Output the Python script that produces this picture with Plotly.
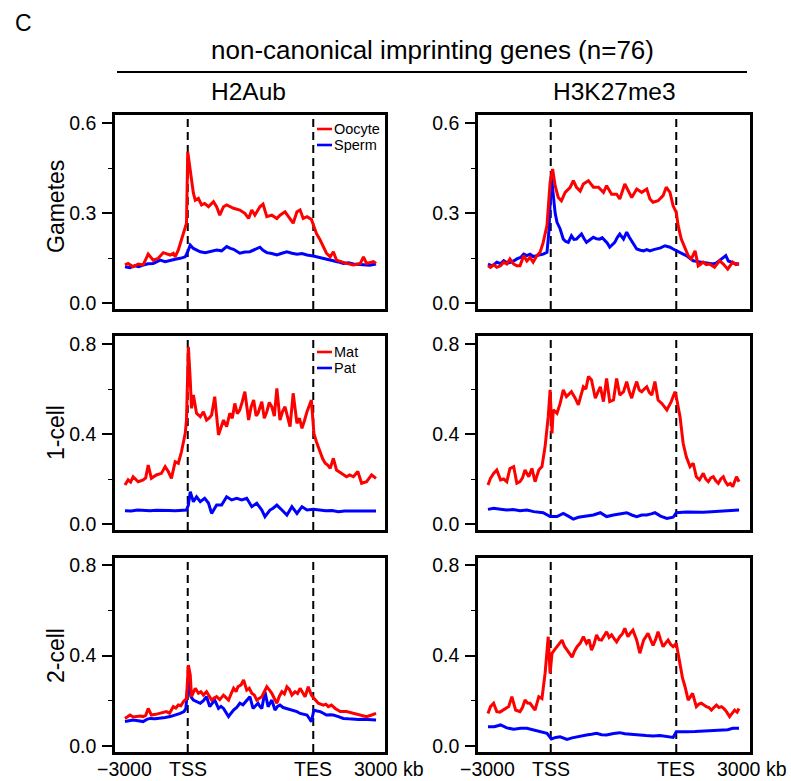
import plotly.graph_objects as go

# ---------------- data (bins: 0 = -3000, 100 = TSS, 300 = TES, 400 = +3000) ----------------
h2a_oocyte_x = [0,5,13,21,29,37,45,53,61,72,77,80,85,90,96,98,100,104,106,109,112,117,122,127,133,141,146,151,157,162,173,183,191,197,202,207,215,220,226,234,242,247,255,260,268,274,279,284,290,297,300,305,311,316,321,327,332,337,343,353,364,375,380,385,396,400]
h2a_oocyte_y = [0.127,0.132,0.121,0.130,0.127,0.163,0.143,0.149,0.168,0.160,0.166,0.154,0.177,0.210,0.254,0.266,0.504,0.438,0.410,0.366,0.343,0.349,0.327,0.332,0.321,0.338,0.321,0.293,0.321,0.327,0.316,0.310,0.299,0.282,0.310,0.293,0.321,0.330,0.288,0.293,0.282,0.293,0.304,0.288,0.266,0.304,0.310,0.282,0.288,0.279,0.260,0.232,0.210,0.188,0.166,0.154,0.171,0.143,0.138,0.132,0.127,0.132,0.154,0.132,0.138,0.132]
h2a_sperm_x = [0,8,15,22,29,37,45,56,64,72,80,88,96,100,104,109,115,120,128,136,146,154,162,168,173,183,191,199,207,215,220,226,234,242,250,258,266,274,282,290,300,308,316,324,332,340,348,356,364,372,380,390,400]
h2a_sperm_y = [0.121,0.118,0.124,0.121,0.127,0.131,0.132,0.143,0.138,0.143,0.146,0.149,0.154,0.171,0.193,0.182,0.176,0.171,0.168,0.171,0.177,0.174,0.188,0.182,0.179,0.166,0.170,0.171,0.178,0.186,0.176,0.168,0.165,0.160,0.166,0.171,0.166,0.163,0.165,0.160,0.157,0.153,0.149,0.146,0.143,0.137,0.132,0.134,0.130,0.128,0.127,0.126,0.130]

k27_oocyte_x = [0,4,9,14,20,25,30,35,41,46,51,57,62,67,72,78,83,88,94,96,99,103,107,112,117,123,131,136,141,147,152,160,168,176,184,189,197,205,210,218,224,229,237,245,253,258,263,271,279,284,290,295,300,303,308,314,319,324,330,335,343,348,353,361,369,375,382,390,395,400]
k27_oocyte_y = [0.124,0.119,0.128,0.119,0.124,0.136,0.130,0.147,0.130,0.124,0.124,0.158,0.140,0.152,0.136,0.158,0.169,0.202,0.258,0.324,0.402,0.447,0.391,0.352,0.341,0.369,0.386,0.408,0.386,0.373,0.397,0.408,0.386,0.386,0.369,0.391,0.363,0.363,0.347,0.397,0.374,0.352,0.380,0.369,0.380,0.347,0.336,0.341,0.358,0.386,0.369,0.324,0.302,0.258,0.213,0.180,0.158,0.147,0.174,0.124,0.136,0.128,0.130,0.119,0.141,0.130,0.113,0.136,0.128,0.130]
k27_sperm_x = [0,7,14,20,25,31,36,41,46,52,57,62,67,72,78,83,88,94,97,101,104,107,110,115,120,124,128,133,137,141,145,149,153,157,162,168,173,178,182,186,190,194,198,202,206,210,216,221,225,229,233,237,243,248,253,258,264,269,275,282,290,295,300,306,311,316,321,327,335,343,351,359,364,369,374,379,383,387,393,400]
k27_sperm_y = [0.130,0.124,0.136,0.131,0.141,0.133,0.136,0.140,0.147,0.152,0.163,0.158,0.163,0.155,0.158,0.160,0.163,0.169,0.236,0.424,0.347,0.300,0.269,0.247,0.213,0.205,0.202,0.224,0.212,0.213,0.222,0.230,0.215,0.202,0.210,0.219,0.214,0.213,0.218,0.208,0.200,0.186,0.194,0.202,0.218,0.230,0.213,0.236,0.220,0.208,0.192,0.180,0.176,0.174,0.178,0.174,0.178,0.180,0.184,0.191,0.186,0.180,0.174,0.169,0.163,0.158,0.150,0.141,0.138,0.136,0.133,0.130,0.134,0.141,0.150,0.158,0.140,0.136,0.132,0.130]

h2a_mat_x = [0,5,9,13,21,29,33,37,42,50,58,64,69,74,80,85,90,96,98,101,104,106,109,114,120,125,130,134,138,143,149,153,157,162,167,171,175,179,183,187,191,197,201,205,209,212,218,222,226,230,234,238,242,247,251,255,259,263,268,274,278,282,286,290,297,301,305,311,315,319,323,327,332,337,345,353,358,364,371,377,385,393,400]
h2a_mat_y = [0.173,0.196,0.186,0.210,0.188,0.196,0.205,0.262,0.203,0.218,0.225,0.255,0.233,0.203,0.277,0.270,0.321,0.403,0.462,0.788,0.640,0.514,0.573,0.492,0.477,0.499,0.462,0.470,0.484,0.566,0.396,0.430,0.462,0.433,0.492,0.470,0.536,0.490,0.507,0.545,0.588,0.462,0.520,0.551,0.480,0.492,0.544,0.470,0.499,0.540,0.521,0.480,0.603,0.462,0.500,0.521,0.470,0.433,0.581,0.447,0.470,0.425,0.460,0.499,0.551,0.403,0.366,0.314,0.290,0.270,0.262,0.247,0.292,0.240,0.225,0.210,0.218,0.210,0.233,0.181,0.188,0.218,0.203]
h2a_pat_x = [0,10,20,30,40,50,60,70,80,90,98,101,104,109,114,120,127,133,138,146,154,162,170,178,186,194,202,210,218,223,231,236,242,250,258,266,274,282,290,300,310,320,330,340,350,360,370,380,390,400]
h2a_pat_y = [0.059,0.058,0.062,0.060,0.059,0.061,0.062,0.060,0.059,0.061,0.062,0.084,0.144,0.099,0.121,0.099,0.114,0.093,0.047,0.084,0.084,0.121,0.107,0.114,0.107,0.114,0.077,0.092,0.062,0.033,0.062,0.070,0.084,0.062,0.040,0.077,0.047,0.077,0.062,0.065,0.061,0.059,0.060,0.055,0.058,0.058,0.056,0.055,0.057,0.058]

k27_mat_x = [0,4,9,14,20,25,30,35,41,46,51,55,59,65,70,75,81,86,91,96,99,102,104,110,115,120,125,129,133,139,144,148,152,156,160,165,171,175,179,184,189,194,200,205,210,216,221,225,229,233,237,241,245,249,253,257,261,266,271,277,281,285,292,298,301,306,311,316,322,327,332,337,343,347,351,355,359,363,367,371,375,378,382,386,390,396,400]
k27_mat_y = [0.173,0.203,0.225,0.240,0.196,0.200,0.188,0.247,0.255,0.181,0.188,0.205,0.240,0.210,0.247,0.188,0.240,0.255,0.344,0.477,0.596,0.403,0.507,0.492,0.536,0.596,0.566,0.575,0.588,0.559,0.529,0.570,0.610,0.600,0.655,0.640,0.559,0.585,0.610,0.544,0.647,0.544,0.551,0.647,0.573,0.588,0.633,0.590,0.559,0.600,0.633,0.595,0.588,0.600,0.610,0.585,0.573,0.633,0.551,0.536,0.520,0.507,0.544,0.588,0.551,0.477,0.359,0.299,0.255,0.270,0.210,0.196,0.225,0.200,0.188,0.205,0.210,0.192,0.181,0.200,0.210,0.190,0.173,0.180,0.166,0.210,0.188]
k27_pat_x = [0,9,20,30,40,51,62,73,88,99,110,120,128,136,144,152,160,168,179,189,200,210,221,229,237,245,253,260,266,275,285,295,300,316,330,343,356,370,385,400]
k27_pat_y = [0.065,0.070,0.066,0.062,0.064,0.059,0.062,0.055,0.050,0.033,0.033,0.047,0.035,0.022,0.030,0.033,0.036,0.040,0.050,0.033,0.040,0.044,0.050,0.040,0.033,0.040,0.040,0.045,0.050,0.035,0.025,0.030,0.050,0.053,0.051,0.052,0.054,0.056,0.058,0.062]

h2a_2c_mat_x = [0,8,13,19,24,29,33,37,42,49,56,61,66,71,77,81,85,89,93,98,101,104,106,112,117,121,125,130,134,138,142,146,151,157,161,165,169,173,177,180,185,189,194,198,202,206,210,214,218,222,226,230,234,238,242,246,250,254,258,262,266,271,275,279,283,287,292,297,301,308,316,320,324,329,335,343,353,364,375,385,393,400]
h2a_2c_mat_y = [0.122,0.137,0.128,0.130,0.133,0.130,0.135,0.166,0.137,0.140,0.144,0.150,0.152,0.145,0.174,0.168,0.181,0.178,0.196,0.210,0.358,0.314,0.218,0.255,0.233,0.240,0.225,0.240,0.222,0.203,0.212,0.218,0.205,0.225,0.214,0.203,0.230,0.255,0.240,0.262,0.270,0.292,0.247,0.255,0.233,0.225,0.203,0.212,0.218,0.240,0.262,0.248,0.233,0.210,0.189,0.220,0.240,0.230,0.262,0.250,0.225,0.240,0.232,0.255,0.235,0.218,0.262,0.225,0.211,0.189,0.181,0.185,0.174,0.181,0.166,0.152,0.152,0.144,0.137,0.130,0.137,0.144]
h2a_2c_pat_x = [0,7,13,21,29,35,40,48,56,64,72,80,88,94,97,101,105,109,115,120,125,130,135,139,143,149,153,157,161,165,169,173,178,183,188,194,199,204,208,212,215,218,223,228,234,239,243,247,252,258,263,268,274,279,285,290,297,301,306,311,316,321,327,332,340,348,356,364,372,380,390,400]
h2a_2c_pat_y = [0.108,0.110,0.115,0.112,0.108,0.118,0.122,0.120,0.122,0.126,0.130,0.136,0.144,0.152,0.166,0.299,0.218,0.203,0.195,0.189,0.200,0.218,0.174,0.190,0.203,0.166,0.175,0.166,0.150,0.130,0.145,0.159,0.170,0.189,0.182,0.203,0.218,0.166,0.180,0.189,0.175,0.166,0.240,0.174,0.203,0.159,0.175,0.181,0.170,0.166,0.162,0.159,0.152,0.144,0.140,0.137,0.108,0.159,0.155,0.152,0.145,0.137,0.138,0.137,0.130,0.122,0.120,0.118,0.117,0.118,0.116,0.115]

k27_2c_mat_x = [0,4,9,14,19,25,29,33,38,44,51,55,59,63,67,71,75,81,86,91,96,99,102,106,110,114,118,122,126,130,134,138,142,147,152,157,161,165,169,173,177,181,185,189,193,197,201,205,210,214,218,223,227,231,237,242,248,251,255,259,263,267,271,275,279,283,287,291,295,300,306,310,314,319,322,326,332,336,340,344,348,352,356,360,364,368,372,376,380,385,389,393,397,400]
k27_2c_mat_y = [0.144,0.174,0.189,0.152,0.150,0.159,0.165,0.174,0.218,0.159,0.152,0.170,0.203,0.190,0.189,0.175,0.159,0.218,0.210,0.321,0.483,0.321,0.410,0.425,0.439,0.450,0.468,0.440,0.424,0.410,0.393,0.420,0.439,0.455,0.483,0.454,0.470,0.424,0.450,0.491,0.470,0.468,0.490,0.505,0.480,0.491,0.475,0.460,0.483,0.495,0.520,0.483,0.500,0.512,0.468,0.410,0.468,0.480,0.498,0.470,0.445,0.470,0.505,0.470,0.439,0.455,0.468,0.450,0.439,0.454,0.351,0.300,0.262,0.203,0.215,0.233,0.174,0.185,0.189,0.180,0.174,0.170,0.159,0.170,0.181,0.170,0.174,0.165,0.152,0.130,0.145,0.159,0.150,0.166]
k27_2c_pat_x = [0,10,20,30,41,52,62,70,78,86,94,101,108,115,120,126,134,141,149,157,165,173,181,189,200,210,218,226,234,242,252,263,274,285,295,300,308,316,330,343,358,372,382,390,400]
k27_2c_pat_y = [0.085,0.085,0.093,0.080,0.074,0.078,0.078,0.072,0.066,0.062,0.056,0.031,0.038,0.041,0.035,0.029,0.036,0.041,0.045,0.049,0.052,0.056,0.050,0.049,0.055,0.059,0.054,0.053,0.050,0.049,0.046,0.044,0.046,0.041,0.038,0.063,0.062,0.063,0.064,0.066,0.066,0.068,0.072,0.078,0.078]

row_labels = ["Gametes", "1-cell", "2-cell"]
col_labels = ["H2Aub", "H3K27me3"]
legend_gametes = ["Oocyte", "Sperm"]
legend_embryo = ["Mat", "Pat"]
x_tickvals = [0, 100, 300, 400]
x_ticktext = ["\u22123000", "TSS", "TES", "3000"]
x_unit = "kb"
title_text = "non-canonical imprinting genes (n=76)"

RED = "#ff0000"
BLUE = "#0000ff"
FONT = "Liberation Sans, Arial, sans-serif"
W, H = 791, 781

panels = [
    (h2a_oocyte_x, h2a_oocyte_y, h2a_sperm_x, h2a_sperm_y),
    (k27_oocyte_x, k27_oocyte_y, k27_sperm_x, k27_sperm_y),
    (h2a_mat_x, h2a_mat_y, h2a_pat_x, h2a_pat_y),
    (k27_mat_x, k27_mat_y, k27_pat_x, k27_pat_y),
    (h2a_2c_mat_x, h2a_2c_mat_y, h2a_2c_pat_x, h2a_2c_pat_y),
    (k27_2c_mat_x, k27_2c_mat_y, k27_2c_pat_x, k27_2c_pat_y),
]

# pixel boxes for columns / rows
col_px = [(115, 385), (478, 750)]
row_px = [(115, 309), (336, 530), (558, 752)]
xranges = [[-15.9, 414.3], [-15.9, 417.5]]
yranges = [[-0.02, 0.627], [-0.0267, 0.8356], [-0.0265, 0.831]]
ymajor = [[0, 0.3, 0.6], [0, 0.4, 0.8], [0, 0.4, 0.8]]
ymajor_txt = [["0.0", "0.3", "0.6"], ["0.0", "0.4", "0.8"], ["0.0", "0.4", "0.8"]]
yminor = [[0.15, 0.45], [0.2, 0.6], [0.2, 0.6]]

fig = go.Figure()
layout = dict(width=W, height=H, margin=dict(l=0, r=0, t=0, b=0, autoexpand=False),
              paper_bgcolor="white", plot_bgcolor="white", showlegend=False,
              font=dict(family=FONT, color="black"))
shapes = []
annotations = []
XLAB_Y = 1 - 769 / H

for i, (rx, ry, bx, by) in enumerate(panels):
    r, c = divmod(i, 2)
    n = "" if i == 0 else str(i + 1)
    xa, ya = "x" + n, "y" + n
    fig.add_trace(go.Scatter(x=bx, y=by, mode="lines", line=dict(color=BLUE, width=3),
                             xaxis=xa, yaxis=ya, hoverinfo="skip"))
    fig.add_trace(go.Scatter(x=rx, y=ry, mode="lines", line=dict(color=RED, width=3),
                             xaxis=xa, yaxis=ya, hoverinfo="skip"))
    x0p, x1p = col_px[c]
    y0p, y1p = row_px[r]
    bottom = (r == 2)
    layout["xaxis" + n] = dict(
        domain=[x0p / W, x1p / W], range=xranges[c], anchor=ya, automargin=False,
        showline=True, mirror=True, linecolor="black", linewidth=2.5,
        showgrid=False, zeroline=False, ticks="", showticklabels=False)
    layout["yaxis" + n] = dict(
        domain=[1 - y1p / H, 1 - y0p / H], range=yranges[r], anchor=xa, automargin=False,
        showline=True, mirror=True, linecolor="black", linewidth=2.5,
        showgrid=False, zeroline=False, ticks="outside", ticklen=10, tickwidth=1.5,
        tickcolor="black", tickmode="array", tickvals=ymajor[r], ticktext=ymajor_txt[r],
        tickfont=dict(size=19.5, family=FONT, color="black"), ticklabelstandoff=2,
        minor=dict(ticks="outside", tickvals=yminor[r], ticklen=4, tickwidth=1.2, tickcolor="black"))
    for xv in (100, 300):
        shapes.append(dict(type="line", xref=xa, yref=ya + " domain", x0=xv, x1=xv, y0=0, y1=1,
                           line=dict(color="black", width=2, dash="8px,5px"), layer="below"))
    if bottom:
        for tv, tt in zip(x_tickvals, x_ticktext):
            annotations.append(dict(text=tt, xref=xa, yref="paper", x=tv, y=XLAB_Y,
                                    xanchor="center", yanchor="middle", showarrow=False,
                                    font=dict(size=19.5, family=FONT, color="black")))
        annotations.append(dict(text=x_unit, xref=xa, yref="paper", x=x_tickvals[-1], y=XLAB_Y,
                                xanchor="left", yanchor="middle", xshift=25, showarrow=False,
                                font=dict(size=19.5, family=FONT, color="black")))

# legends
for labels, ys in ((legend_gametes, (129, 145)), (legend_embryo, (352, 368))):
    for lab, col, yp in zip(labels, (RED, BLUE), ys):
        shapes.append(dict(type="line", xref="paper", yref="paper", x0=317 / W, x1=332 / W,
                           y0=1 - yp / H, y1=1 - yp / H, line=dict(color=col, width=2.6)))
        annotations.append(dict(text=lab, xref="paper", yref="paper", x=332 / W, y=1 - yp / H,
                                xanchor="left", yanchor="middle", showarrow=False,
                                font=dict(size=14.5, family=FONT, color="black")))

# title, rule, column and row labels
annotations.append(dict(text="C", xref="paper", yref="paper", x=23 / W, y=1 - 23 / H,
                        xanchor="center", yanchor="middle", showarrow=False, font=dict(size=23)))
annotations.append(dict(text=title_text, xref="paper", yref="paper", x=432 / W, y=1 - 50 / H,
                        xanchor="center", yanchor="middle", showarrow=False, font=dict(size=26)))
shapes.append(dict(type="line", xref="paper", yref="paper", x0=117 / W, x1=747 / W,
                   y0=1 - 72 / H, y1=1 - 72 / H, line=dict(color="black", width=2)))
for lab, cx in zip(col_labels, (248, 614)):
    annotations.append(dict(text=lab, xref="paper", yref="paper", x=cx / W, y=1 - 91.5 / H,
                            xanchor="center", yanchor="middle", showarrow=False, font=dict(size=24.5)))
for lab, cy in zip(row_labels, (207, 433, 656)):
    annotations.append(dict(text=lab, xref="paper", yref="paper", x=56 / W, y=1 - cy / H,
                            xanchor="center", yanchor="middle", textangle=-90, showarrow=False,
                            font=dict(size=23)))

layout["shapes"] = shapes
layout["annotations"] = annotations
fig.update_layout(**layout)
fig.write_html("out.html")
